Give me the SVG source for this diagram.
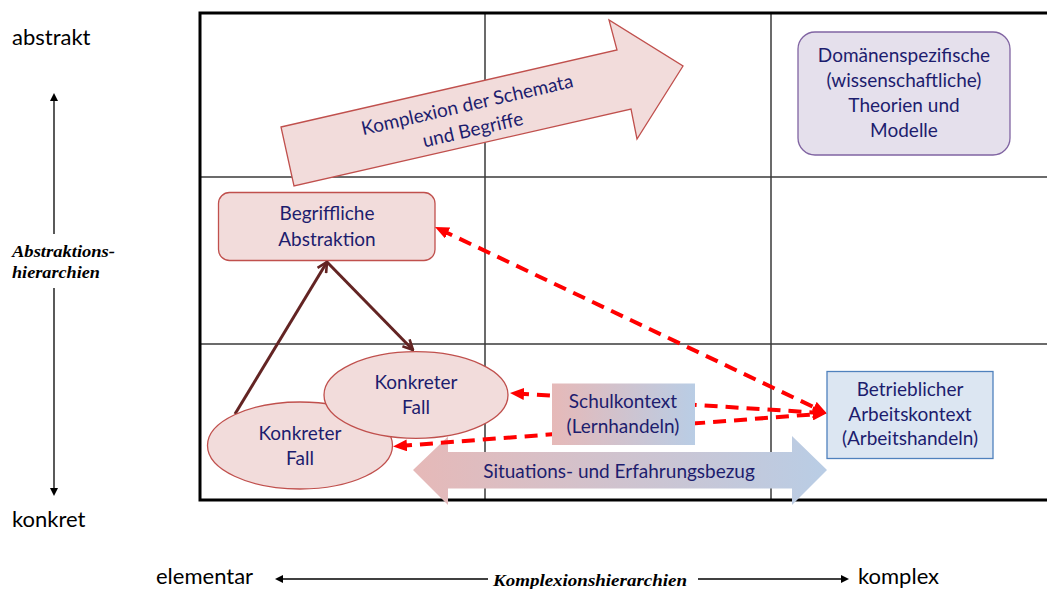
<svg xmlns="http://www.w3.org/2000/svg" width="1047" height="589" viewBox="0 0 1047 589">
<style>
.t{font-family:Lato,"Liberation Sans",sans-serif;font-size:19px;fill:#1d1d6e;text-anchor:middle}
.ax{font-family:Lato,"Liberation Sans",sans-serif;font-size:22px;fill:#000}
.it{font-family:"Liberation Serif","Times New Roman",serif;font-size:16.5px;font-weight:bold;font-style:italic;fill:#000}
.grid{stroke:#3a3a3a;stroke-width:1.5;fill:none}
.border{stroke:#000;stroke-width:3;fill:none}
.pink{fill:#f2dcdb;stroke:#c0504d;stroke-width:1.3}
.red{stroke:#ff0000;stroke-width:4;stroke-dasharray:13 8;fill:none;marker-start:url(#rh);marker-end:url(#rh)}
.brown{stroke:#632423;stroke-width:3;fill:none;marker-end:url(#bh)}
.axl{stroke:#000;stroke-width:1.3;fill:none;marker-end:url(#ah)}
</style>
<defs>
<marker id="rh" viewBox="0 0 14 12" markerWidth="14" markerHeight="12" refX="8" refY="6" orient="auto-start-reverse" markerUnits="userSpaceOnUse">
<path d="M0,0 L14,6 L0,12 z" fill="#ff0000"/>
</marker>
<marker id="bh" viewBox="0 0 12 12" markerWidth="12" markerHeight="12" refX="11" refY="6" orient="auto" markerUnits="userSpaceOnUse">
<path d="M1,1 L11,6 L1,11" fill="none" stroke="#632423" stroke-width="2.6"/>
</marker>
<marker id="ah" viewBox="0 0 8 8" markerWidth="8" markerHeight="8" refX="2" refY="4" orient="auto" markerUnits="userSpaceOnUse">
<path d="M0,0 L8,4 L0,8 z" fill="#000"/>
</marker>
<linearGradient id="gsk" x1="0" y1="0" x2="1" y2="0">
<stop offset="0" stop-color="#e6b9b8"/>
<stop offset="1" stop-color="#b9cde5"/>
</linearGradient>
</defs>

<g id="grid">
<line class="grid" x1="485" y1="13" x2="485" y2="500"/>
<line class="grid" x1="771" y1="13" x2="771" y2="500"/>
<line class="grid" x1="200" y1="177" x2="1047" y2="177"/>
<line class="grid" x1="200" y1="344" x2="1047" y2="344"/>
<path class="border" d="M1047,13 H200 V500 H1047"/>
</g>

<g id="axis-left">
<text class="ax" x="12" y="45">abstrakt</text>
<text class="ax" x="12" y="527">konkret</text>
<line class="axl" x1="54" y1="234" x2="54" y2="99"/>
<line class="axl" x1="54" y1="288" x2="54" y2="490"/>
<text class="it" x="12" y="257" textLength="103" lengthAdjust="spacingAndGlyphs">Abstraktions-</text>
<text class="it" x="12" y="278" textLength="88" lengthAdjust="spacingAndGlyphs">hierarchien</text>
</g>

<g id="axis-bottom">
<text class="ax" x="156" y="584">elementar</text>
<line class="axl" x1="488" y1="579" x2="281" y2="579"/>
<text class="it" x="493" y="586" textLength="194" lengthAdjust="spacingAndGlyphs">Komplexionshierarchien</text>
<line class="axl" x1="698" y1="579" x2="843" y2="579"/>
<text class="ax" x="858" y="584">komplex</text>
</g>

<g id="komplexion-arrow">
<polygon class="pink" points="281,127 617,50 609,20 683,66 637,139 631,109 294,186"/>
<g transform="translate(470,117.5) rotate(-12.9)">
<text class="t" x="0" y="-6.5">Komplexion der Schemata</text>
<text class="t" x="0" y="19">und Begriffe</text>
</g>
</g>

<g id="domaenen">
<rect x="798" y="32" width="212" height="123" rx="17" fill="#e5e0ec" stroke="#8064a2" stroke-width="1.3"/>
<text class="t" x="904" y="62">Domänenspezifische</text>
<text class="t" x="904" y="87">(wissenschaftliche)</text>
<text class="t" x="904" y="112">Theorien und</text>
<text class="t" x="904" y="137">Modelle</text>
</g>

<g id="begriffliche">
<rect class="pink" x="218.5" y="192.5" width="216.5" height="68" rx="11"/>
<text class="t" x="327" y="220">Begriffliche</text>
<text class="t" x="327" y="246">Abstraktion</text>
</g>

<g id="situations-arrow">
<polygon fill="url(#gsk)" points="413,470 448,436.5 448,452 792,452 792,436 827,470 792,505 792,488.5 448,488.5 448,505"/>
<text class="t" x="619" y="478">Situations- und Erfahrungsbezug</text>
</g>

<g id="connectors">
<line class="red" x1="440.4" y1="229.6" x2="821.3" y2="410.7"/>
<line class="red" x1="516" y1="393.4" x2="820.7" y2="412.9"/>
<line class="red" x1="399" y1="446" x2="820.7" y2="413.8"/>
<line class="brown" x1="235" y1="414" x2="327" y2="262"/>
<line class="brown" x1="327" y1="262" x2="413" y2="350"/>
</g>

<g id="fall-links">
<ellipse class="pink" cx="300" cy="445.5" rx="92.5" ry="43.5"/>
<text class="t" x="300" y="440">Konkreter</text>
<text class="t" x="300" y="465">Fall</text>
</g>

<g id="fall-rechts">
<ellipse class="pink" cx="416" cy="395" rx="92" ry="43.3"/>
<text class="t" x="416" y="389">Konkreter</text>
<text class="t" x="416" y="414">Fall</text>
</g>

<g id="schulkontext">
<rect x="552" y="383.5" width="143" height="61.5" fill="url(#gsk)"/>
<text class="t" x="623" y="408">Schulkontext</text>
<text class="t" x="623" y="433">(Lernhandeln)</text>
</g>

<g id="betrieblicher">
<rect x="827" y="371.5" width="166" height="87" fill="#dce6f2" stroke="#4f81bd" stroke-width="1.3"/>
<text class="t" x="910" y="396">Betrieblicher</text>
<text class="t" x="910" y="421">Arbeitskontext</text>
<text class="t" x="910" y="445">(Arbeitshandeln)</text>
</g>
</svg>
